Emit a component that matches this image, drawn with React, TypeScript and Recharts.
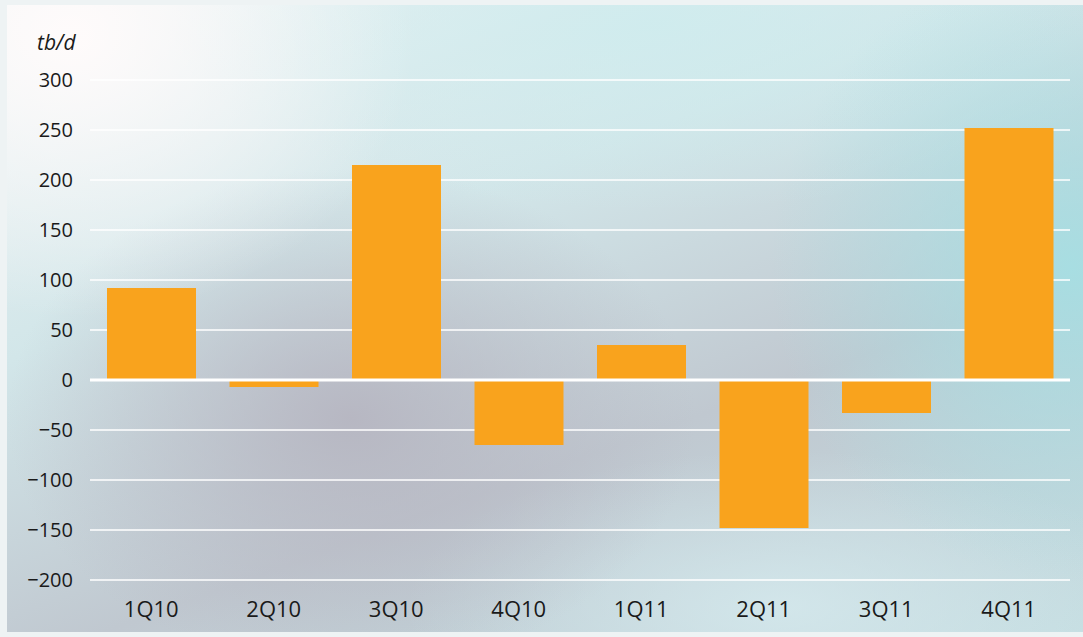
import { Bar, BarChart, CartesianGrid, ReferenceLine, XAxis, YAxis } from 'recharts'

const quarters = ['1Q10', '2Q10', '3Q10', '4Q10', '1Q11', '2Q11', '3Q11', '4Q11']
const change = [92, -7, 215, -65, 35, -148, -33, 252]
const yTicks = [-200, -150, -100, -50, 0, 50, 100, 150, 200, 250, 300]

const data = quarters.map((q, i) => ({ quarter: q, value: change[i] }))

const font = '"Open Sans", "Noto Sans", sans-serif'

const bg = [
  'radial-gradient(ellipse 32% 45% at 6% 5%, rgba(255,251,251,1) 0%, rgba(255,255,255,0) 100%)',
  'radial-gradient(ellipse 32% 40% at 32% 66%, rgba(180,178,190,0.85) 0%, rgba(180,178,190,0) 100%)',
  'radial-gradient(ellipse 28% 50% at 99% 42%, rgba(165,224,228,0.9) 0%, rgba(165,224,228,0) 100%)',
  'radial-gradient(ellipse 45% 30% at 60% 3%, rgba(205,236,238,0.8) 0%, rgba(205,236,238,0) 100%)',
  'radial-gradient(ellipse 35% 25% at 72% 96%, rgba(214,234,238,0.8) 0%, rgba(214,234,238,0) 100%)',
  'linear-gradient(160deg, #edf4f5 0%, #d2e6e9 35%, #c0c8d0 65%, #c4dde1 100%)',
].join(', ')

function App() {
  return (
    <div style={{ position: 'absolute', left: 0, top: 0, width: 1083, height: 637, background: '#eef3f4', fontFamily: font }}>
      <div style={{ position: 'absolute', left: 7, top: 5, width: 1076, height: 627, background: bg }} />
      <div style={{ position: 'absolute', left: 37, top: 28, fontSize: 21, fontStyle: 'italic', color: '#1a1a1a' }}>
        tb/d
      </div>
      <div style={{ position: 'absolute', left: 0, top: 0 }}>
        <BarChart
          width={1083}
          height={637}
          data={data}
          margin={{ top: 80, right: 13, bottom: 27, left: 0 }}
        >
          <CartesianGrid horizontal vertical={false} stroke="#ffffff" strokeWidth={1.5} />
          <ReferenceLine y={0} stroke="#ffffff" strokeWidth={3} />
          <XAxis
            dataKey="quarter"
            axisLine={false}
            tickLine={false}
            tickSize={0}
            tickMargin={21}
            height={30}
            tick={{ fill: '#1a1a1a', fontSize: 22, fontFamily: font }}
          />
          <YAxis
            domain={[-200, 300]}
            ticks={yTicks}
            interval={0}
            axisLine={false}
            tickLine={false}
            tickSize={0}
            tickMargin={17}
            width={90}
            tickFormatter={(v: number) => String(v).replace('-', '\u2212')}
            tick={{ fill: '#1a1a1a', fontSize: 20, fontFamily: font }}
          />
          <Bar dataKey="value" fill="#f9a31d" barSize={89} isAnimationActive={false} />
        </BarChart>
      </div>
    </div>
  )
}

export default App
